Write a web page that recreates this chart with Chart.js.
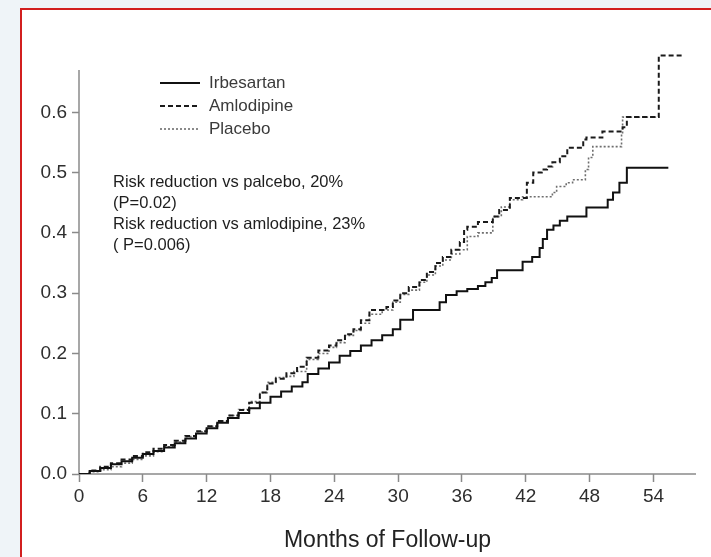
<!DOCTYPE html>
<html>
<head>
<meta charset="utf-8">
<script src="https://cdn.jsdelivr.net/npm/chart.js@4.4.1/dist/chart.umd.min.js"></script>
<style>
    html, body { margin: 0; padding: 0; }
    body { width: 711px; height: 557px; background: #eff4f8; overflow: hidden; position: relative; }
    .frame { position: absolute; left: 20px; top: 8px; width: 760px; height: 620px; border: 2px solid #d21f1f; background: #fff; }
    #km { position: absolute; left: 0; top: 0; }
</style>
</head>
<body>
<div class="frame"></div>
<canvas id="km" width="711" height="557"></canvas>
<script>
// Cumulative event proportion by treatment arm (Kaplan-Meier steps)
const irbMonths = [0,1,2,3,4,5,6,7,8,9,10,11,12,13,14,15,16,17,18,19,20,21,21.5,22.5,23.5,24.5,25.5,26.5,27.5,28.5,29.5,30.2,31.4,33.9,34.5,35.5,36.5,37.5,38.2,38.8,39.3,41.7,42.6,43.3,43.6,44,44.6,45.2,45.9,47.7,49.7,50.2,50.8,51.5,55.4];
const irbRisk   = [0,0.005,0.01,0.016,0.021,0.027,0.033,0.038,0.044,0.051,0.059,0.067,0.076,0.085,0.093,0.101,0.109,0.118,0.128,0.137,0.145,0.152,0.166,0.175,0.185,0.196,0.204,0.213,0.222,0.23,0.24,0.256,0.272,0.285,0.297,0.303,0.307,0.312,0.318,0.325,0.338,0.352,0.36,0.375,0.39,0.405,0.412,0.42,0.427,0.442,0.455,0.467,0.483,0.508,0.508];

const amlMonths = [0,1,2,3,4,5,6,7,8,9,10,11,12,13,14,15,16,17,17.7,18.5,19.5,20.5,21.4,22.5,23.5,24.2,25,25.8,26.5,27.3,28.9,29.5,30.2,31,32,32.7,33.5,34.2,35,35.8,36.2,36.5,37.5,38.9,39.5,40.5,42.1,42.7,43.5,44,44.5,45.2,45.9,47.4,47.7,49.2,51.1,51.5,54.5,56.7];
const amlRisk   = [0,0.006,0.012,0.018,0.024,0.03,0.036,0.042,0.048,0.055,0.063,0.071,0.079,0.088,0.097,0.106,0.118,0.135,0.15,0.158,0.167,0.178,0.193,0.205,0.213,0.222,0.232,0.24,0.255,0.272,0.277,0.288,0.3,0.31,0.322,0.335,0.35,0.36,0.372,0.385,0.405,0.41,0.418,0.427,0.438,0.458,0.483,0.5,0.505,0.51,0.517,0.527,0.541,0.555,0.558,0.568,0.575,0.592,0.694,0.694];

const plaMonths = [0,1,2,3,4,5,6,7,8,9,10,11,12,13,14,15,16,17,17.7,18.5,19.5,20.2,21.4,22.5,23.5,24.2,25,25.8,26.5,27.3,28.5,29.5,30.2,31,32,32.7,33.5,34.2,35,35.8,36.5,37.5,38.9,39.7,40.5,41.7,44.5,44.9,45.8,46.4,47.6,47.9,48.3,51,51.1,54.5];
const plaRisk   = [0,0.004,0.007,0.012,0.018,0.024,0.03,0.037,0.045,0.053,0.062,0.07,0.079,0.088,0.097,0.107,0.12,0.135,0.152,0.16,0.162,0.17,0.19,0.2,0.21,0.218,0.23,0.238,0.25,0.265,0.272,0.285,0.298,0.305,0.318,0.33,0.345,0.355,0.365,0.372,0.394,0.4,0.427,0.443,0.455,0.46,0.467,0.477,0.483,0.488,0.505,0.525,0.543,0.566,0.592,0.592];

const seriesNames = ['Irbesartan', 'Amlodipine', 'Placebo'];
const xTicks = [0, 6, 12, 18, 24, 30, 36, 42, 48, 54];
const yTicks = [0, 0.1, 0.2, 0.3, 0.4, 0.5, 0.6];
const noteLines = [
    'Risk reduction vs palcebo, 20%',
    '(P=0.02)',
    'Risk reduction vs amlodipine, 23%',
    '( P=0.006)'
];

const toPoints = (xs, ys) => xs.map((x, i) => ({ x: x, y: ys[i] }));

const tickFont = { family: 'Liberation Sans, Arial, sans-serif', size: 19 };
const axisGray = '#8a8a8a';

// Axis lines drawn by hand so the y axis stops short of the top
const axisLines = {
    id: 'axisLines',
    beforeDatasetsDraw(chart) {
        const { ctx, scales: { x, y } } = chart;
        ctx.save();
        ctx.strokeStyle = axisGray;
        ctx.lineWidth = 1.5;
        ctx.beginPath();
        ctx.moveTo(x.left, y.getPixelForValue(0));
        ctx.lineTo(x.left, y.getPixelForValue(0.67));
        ctx.moveTo(x.left, y.getPixelForValue(0));
        ctx.lineTo(x.right, y.getPixelForValue(0));
        ctx.stroke();
        ctx.restore();
    }
};

// Key and risk-reduction note inside the plot
const overlay = {
    id: 'overlay',
    afterDatasetsDraw(chart) {
        const ctx = chart.ctx;
        ctx.save();
        ctx.textBaseline = 'middle';
        chart.data.datasets.forEach((ds, i) => {
            const yy = 83 + i * 23;
            ctx.strokeStyle = ds.borderColor;
            ctx.lineWidth = ds.borderWidth;
            ctx.setLineDash(ds.borderDash || []);
            ctx.beginPath();
            ctx.moveTo(160, yy);
            ctx.lineTo(200, yy);
            ctx.stroke();
            ctx.setLineDash([]);
            ctx.fillStyle = '#3a3a3a';
            ctx.font = '17px "Liberation Sans", Arial, sans-serif';
            ctx.fillText(seriesNames[i], 209, yy);
        });
        ctx.fillStyle = '#1e1e1e';
        ctx.font = '16.5px "Liberation Sans", Arial, sans-serif';
        noteLines.forEach((line, i) => {
            ctx.fillText(line, 113, 182 + i * 21);
        });
        ctx.restore();
    }
};

const ctx = document.getElementById('km').getContext('2d');
new Chart(ctx, {
    type: 'line',
    data: {
        datasets: [
            {
                label: seriesNames[0],
                data: toPoints(irbMonths, irbRisk),
                borderColor: '#111',
                borderWidth: 2,
                stepped: true
            },
            {
                label: seriesNames[1],
                data: toPoints(amlMonths, amlRisk),
                borderColor: '#1a1a1a',
                borderWidth: 2,
                borderDash: [5, 3],
                stepped: true
            },
            {
                label: seriesNames[2],
                data: toPoints(plaMonths, plaRisk),
                borderColor: '#6e6e6e',
                borderWidth: 1.6,
                borderDash: [2, 2],
                stepped: true
            }
        ]
    },
    options: {
        responsive: false,
        animation: false,
        devicePixelRatio: 1,
        layout: { padding: { top: 52, right: 15, left: 0, bottom: 0 } },
        elements: { point: { radius: 0 }, line: { tension: 0 } },
        plugins: {
            legend: { display: false },
            tooltip: { enabled: false }
        },
        scales: {
            x: {
                type: 'linear',
                min: 0,
                max: 58,
                afterBuildTicks: (scale) => { scale.ticks = xTicks.map(v => ({ value: v })); },
                afterFit: (scale) => { scale.height = 83; },
                border: { display: false },
                grid: {
                    drawOnChartArea: false,
                    drawTicks: true,
                    tickLength: 8,
                    tickColor: axisGray,
                    tickWidth: 1.5
                },
                ticks: {
                    color: '#2e2e2e',
                    font: tickFont,
                    padding: 3,
                    maxRotation: 0,
                    callback: (v) => String(v)
                },
                title: {
                    display: true,
                    text: 'Months of Follow-up',
                    color: '#222',
                    font: { family: 'Liberation Sans, Arial, sans-serif', size: 23 },
                    padding: { top: 4, bottom: 3 }
                }
            },
            y: {
                type: 'linear',
                min: 0,
                max: 0.7,
                afterBuildTicks: (scale) => { scale.ticks = yTicks.map(v => ({ value: v })); },
                afterFit: (scale) => { scale.width = 79; },
                border: { display: false },
                grid: {
                    drawOnChartArea: false,
                    drawTicks: true,
                    tickLength: 7,
                    tickColor: axisGray,
                    tickWidth: 1.5
                },
                ticks: {
                    color: '#2e2e2e',
                    font: tickFont,
                    padding: 5,
                    callback: (v) => v.toFixed(1)
                }
            }
        }
    },
    plugins: [axisLines, overlay]
});
</script>
</body>
</html>
